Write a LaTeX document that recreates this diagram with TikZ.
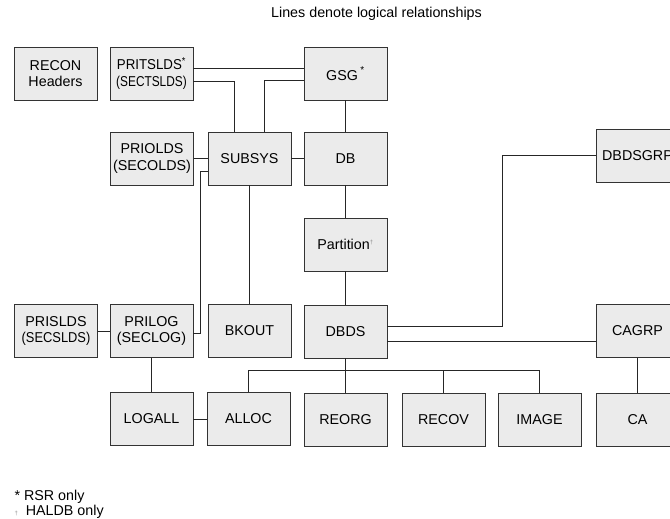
\documentclass[tikz,border=0pt]{standalone}
\usepackage{fontspec}
\usepackage{graphicx}
\setmainfont{Liberation Sans}
\definecolor{boxgray}{RGB}{235,235,235}
\newcommand{\squeeze}[2]{\scalebox{#1}[1]{#2}}
\newcommand{\haldbmark}{{\color{black!45}\fontsize{6}{6}\selectfont\textdagger}}
\begin{document}
\begin{tikzpicture}[x=1pt,y=-1pt,every node/.style={font=\fontsize{14.3}{16.6}\selectfont},
  box/.style={draw=black!80,fill=boxgray,line width=0.8pt,minimum width=83pt,minimum height=53pt,inner sep=0pt,align=center}]
  \useasboundingbox (0,0) rectangle (670,519);
  \clip (0,0) rectangle (670,519);
  \node (title) at (376.5,14) {Lines denote logical relationships};
  % first row
  \node [box] (recon) at (55.5,73.5) {RECON\\Headers};
  \node [box] (pritslds) at (151.5,73.5) {\squeeze{0.93}{PRITSLDS\textsuperscript{*}}\\\squeeze{0.83}{(SECTSLDS)}};
  \node [box] (gsg) at (345.5,73.5) {GSG\,\raisebox{2pt}{\textsuperscript{*}}};
  % second row
  \node [box] (priolds) at (152,158.5) {PRIOLDS\\(SECOLDS)};
  \node [box] (subsys) at (249.5,158.5) {SUBSYS};
  \node [box] (db) at (345.5,158.5) {DB};
  \node [box] (dbdsgrp) at (637.5,155.5) {DBDSGRP};
  \node [box] (partition) at (345.5,244.5) {Partition\textsuperscript{\haldbmark}};
  % third row
  \node [box] (prislds) at (56,331) {PRISLDS\\\squeeze{0.9}{(SECSLDS)}};
  \node [box] (prilog) at (151.5,331) {PRILOG\\(SECLOG)};
  \node [box] (bkout) at (249.5,331) {BKOUT};
  \node [box] (dbds) at (345.5,331.5) {DBDS};
  \node [box] (cagrp) at (637.5,331) {CAGRP};
  % bottom row
  \node [box] (logall) at (151.5,419) {LOGALL};
  \node [box] (alloc) at (248.5,419) {ALLOC};
  \node [box] (reorg) at (345.5,419.5) {REORG};
  \node [box] (recov) at (443.5,419.5) {RECOV};
  \node [box] (image) at (539.5,419.5) {IMAGE};
  \node [box] (ca) at (637.5,419.5) {CA};
  % footnotes
  \node [anchor=west] (rsr) at (11,497) {* RSR only};
  \node [anchor=west] (haldb) at (11,512) {\haldbmark\ \ HALDB only};
  % relationships
  \begin{scope}[line width=0.8pt,black!85]
    \draw ([yshift=5.5pt]pritslds.east) -- ([yshift=5.5pt]gsg.west);
    \draw ([yshift=-7.5pt]pritslds.east) -| ([xshift=-15.5pt]subsys.north);
    \draw ([yshift=-6.5pt]gsg.west) -| ([xshift=14.5pt]subsys.north);
    \draw (gsg) -- (db);
    \draw (priolds) -- (subsys);
    \draw (subsys) -- (db);
    \draw ([yshift=-12.5pt]subsys.west) -- ++(-7pt,0) |- ([yshift=-2pt]prilog.east);
    \draw (subsys) -- (bkout);
    \draw (db) -- (partition);
    \draw (partition) -- (dbds);
    \draw ([yshift=5.5pt]dbds.east) -- ++(115pt,0) |- (dbdsgrp.west);
    \draw ([yshift=-10pt]dbds.east) -- ([yshift=-10pt]dbds.east -| cagrp.west);
    \draw (prislds) -- (prilog);
    \draw (prilog) -- (logall);
    \draw (logall) -- (alloc);
    \draw (cagrp) -- (ca);
    \draw (dbds) -- (reorg);
    \draw (alloc.north) -- ++(0,22pt) -| (image.north);
    \draw (recov.north) -- ++(0,22pt);
  \end{scope}
\end{tikzpicture}
\end{document}
